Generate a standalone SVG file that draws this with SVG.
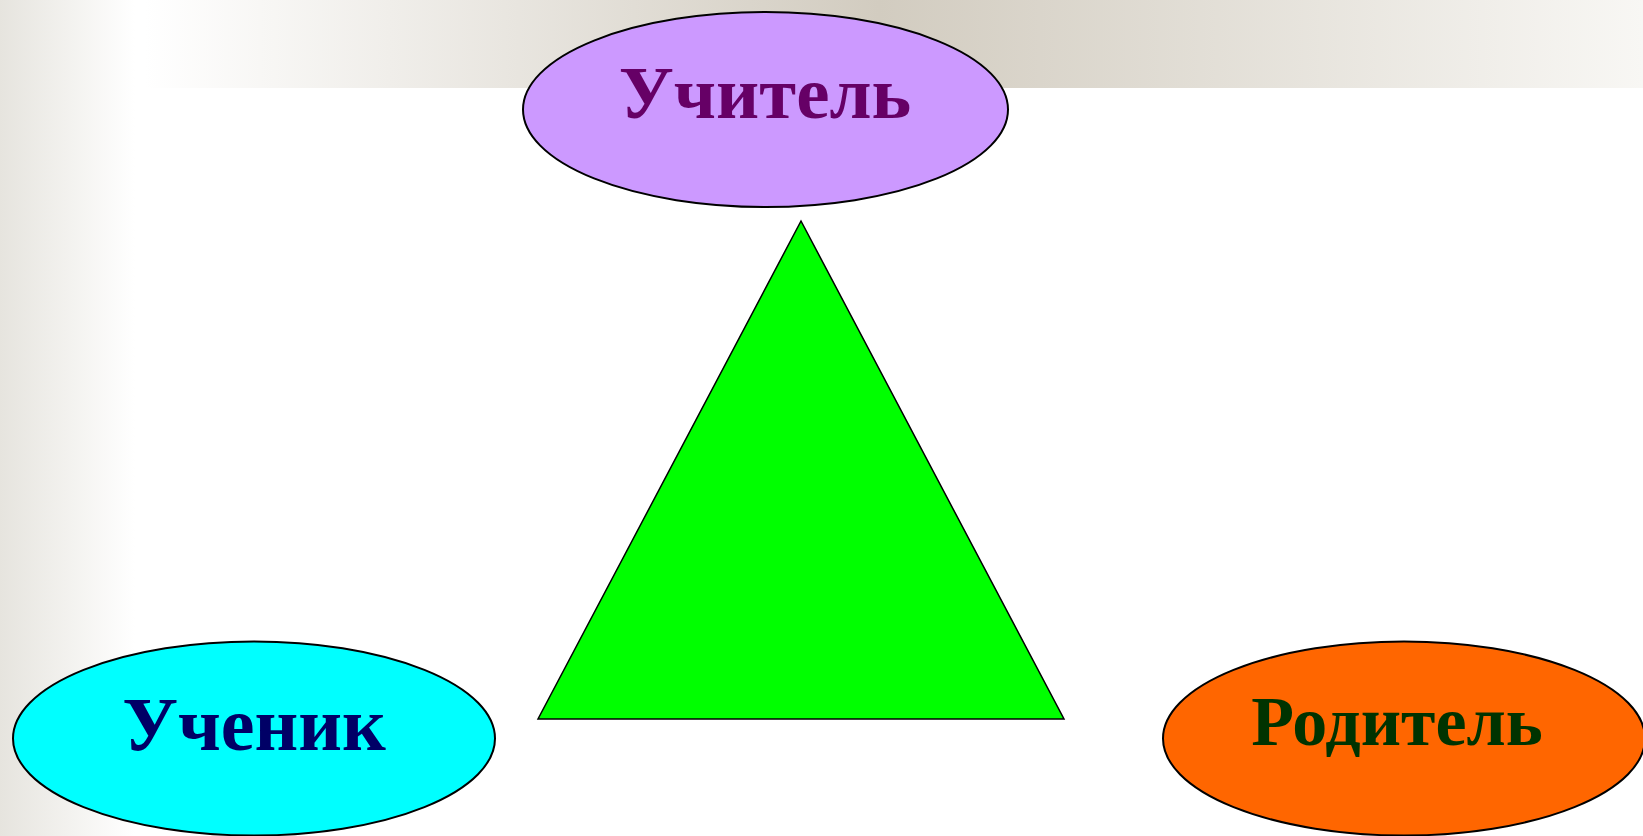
<svg xmlns="http://www.w3.org/2000/svg" width="1643" height="836" viewBox="0 0 1643 836">
  <defs>
    <linearGradient id="leftStrip" x1="0" y1="0" x2="1" y2="0">
      <stop offset="0" stop-color="#e6e4de"/>
      <stop offset="1" stop-color="#ffffff"/>
    </linearGradient>
    <linearGradient id="topBand" x1="145" y1="0" x2="1643" y2="0" gradientUnits="userSpaceOnUse">
      <stop offset="0" stop-color="#ffffff"/>
      <stop offset="0.49" stop-color="#d2ccc0"/>
      <stop offset="1" stop-color="#f8f7f4"/>
    </linearGradient>
  </defs>
  <style>
    .node { stroke: #000000; stroke-width: 2; }
    .lbl { font-family: "Liberation Serif", "Times New Roman", serif; font-weight: bold; text-anchor: middle; }
  </style>
  <rect x="0" y="0" width="1643" height="836" fill="#ffffff"/>
  <rect x="0" y="0" width="135" height="836" fill="url(#leftStrip)"/>
  <rect x="145" y="0" width="1498" height="88" fill="url(#topBand)"/>

  <g id="connectors">
    <polygon id="triangle" points="801,221 538,719 1064,719" fill="#00ff00" stroke="#000000" stroke-width="1.5"/>
  </g>

  <g id="teacher">
    <ellipse class="node" cx="765.5" cy="109.5" rx="242.5" ry="97.5" fill="#cc99ff"/>
    <text class="lbl" x="765" y="118" font-size="75" fill="#660066">Учитель</text>
  </g>
  <g id="student">
    <ellipse class="node" cx="254" cy="738.5" rx="241" ry="97" fill="#00ffff"/>
    <text class="lbl" x="254" y="750" font-size="76" fill="#000066">Ученик</text>
  </g>
  <g id="parent">
    <ellipse class="node" cx="1404" cy="738.5" rx="241" ry="97" fill="#ff6600"/>
    <text class="lbl" x="1397" y="745" font-size="70" fill="#003300">Родитель</text>
  </g>
</svg>
